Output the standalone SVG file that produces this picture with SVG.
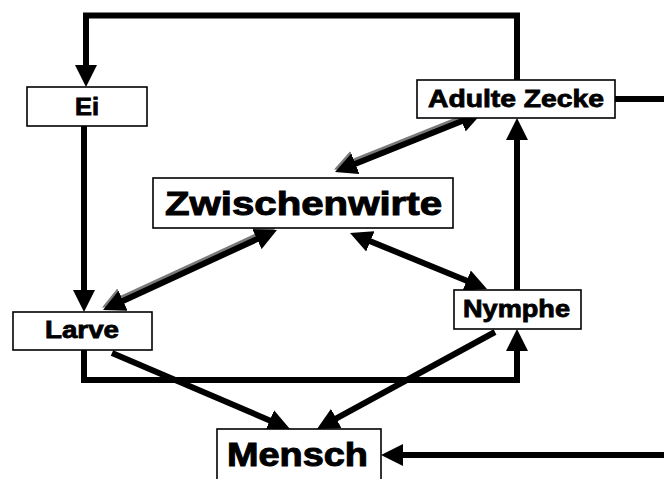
<svg xmlns="http://www.w3.org/2000/svg" width="664" height="479" viewBox="0 0 664 479">
  <style>
    .box { fill: #ffffff; stroke: #000000; stroke-width: 1.6; }
    .lbl { font-family: "Liberation Sans", Arial, sans-serif; font-weight: bold; fill: #000000; stroke: #000000; stroke-width: 0.8; text-anchor: start; }
    .small { font-size: 23px; }
    .big { font-size: 33px; stroke-width: 1; }
    .wire { fill: none; stroke: #000000; stroke-width: 6; stroke-linejoin: miter; }
    .dbl { fill: none; stroke: #000000; stroke-width: 6; }
    .dbl-shade { fill: none; stroke: #7a7a7a; stroke-width: 6; }
  </style>
  <defs>
    <marker id="head" viewBox="0 0 22 22" refX="14" refY="11" markerWidth="22" markerHeight="22" markerUnits="userSpaceOnUse" orient="auto-start-reverse">
      <path d="M0,0 L22,11 L0,22 Z" fill="#000000"/>
    </marker>
    <marker id="head-shade" viewBox="0 0 22 22" refX="14" refY="11" markerWidth="22" markerHeight="22" markerUnits="userSpaceOnUse" orient="auto-start-reverse">
      <path d="M0,0 L22,11 L0,22 Z" fill="#7a7a7a"/>
    </marker>
  </defs>

  <rect width="664" height="479" fill="#ffffff"/>

  <g id="connectors">
    <!-- life cycle loop -->
    <path class="wire" d="M517,80 V15.5 H86 V79" marker-end="url(#head)"/>
    <path class="wire" d="M84,126 V304" marker-end="url(#head)"/>
    <path class="wire" d="M84,350 V380 H517 V337" marker-end="url(#head)"/>
    <path class="wire" d="M517,290 V126" marker-end="url(#head)"/>
    <path class="wire" d="M615,99 H664"/>
    <!-- towards the human host -->
    <path class="wire" d="M664,455 H389" marker-end="url(#head)"/>
    <path class="wire" d="M112,353 L282.6,425.9" marker-end="url(#head)"/>
    <path class="wire" d="M495,332 L324,425.2" marker-end="url(#head)"/>
    <!-- intermediate hosts -->
    <path class="dbl" d="M357.4,236 L479.6,286" marker-start="url(#head)" marker-end="url(#head)"/>
    <g transform="translate(-1,-2.5)">
      <path class="dbl-shade" d="M342.4,169 L474.6,116" marker-start="url(#head-shade)" marker-end="url(#head-shade)"/>
      <path class="dbl-shade" d="M110.3,306.7 L269.7,233.3" marker-start="url(#head-shade)" marker-end="url(#head-shade)"/>
    </g>
    <path class="dbl" d="M342.4,169 L474.6,116" marker-start="url(#head)" marker-end="url(#head)"/>
    <path class="dbl" d="M110.3,306.7 L269.7,233.3" marker-start="url(#head)" marker-end="url(#head)"/>
  </g>

  <g id="node-ei">
    <rect class="box" x="27" y="87" width="120" height="39"/>
    <text class="lbl small" x="75" y="115" textLength="24" lengthAdjust="spacingAndGlyphs">Ei</text>
  </g>

  <g id="node-adulte-zecke">
    <rect class="box" x="417" y="80" width="198" height="38"/>
    <text class="lbl small" x="428" y="107" textLength="176" lengthAdjust="spacingAndGlyphs">Adulte Zecke</text>
  </g>

  <g id="node-zwischenwirte">
    <rect class="box" x="153" y="178" width="300" height="50"/>
    <text class="lbl big" x="165" y="215" textLength="277" lengthAdjust="spacingAndGlyphs">Zwischenwirte</text>
  </g>

  <g id="node-larve">
    <rect class="box" x="13" y="312" width="139" height="38"/>
    <text class="lbl small" x="45" y="338" textLength="74" lengthAdjust="spacingAndGlyphs">Larve</text>
  </g>

  <g id="node-nymphe">
    <rect class="box" x="454" y="290" width="127" height="39"/>
    <text class="lbl small" x="463" y="317" textLength="107" lengthAdjust="spacingAndGlyphs">Nymphe</text>
  </g>

  <g id="node-mensch">
    <rect class="box" x="217" y="429" width="164" height="60"/>
    <text class="lbl big" x="227" y="466" textLength="141" lengthAdjust="spacingAndGlyphs">Mensch</text>
  </g>
</svg>
